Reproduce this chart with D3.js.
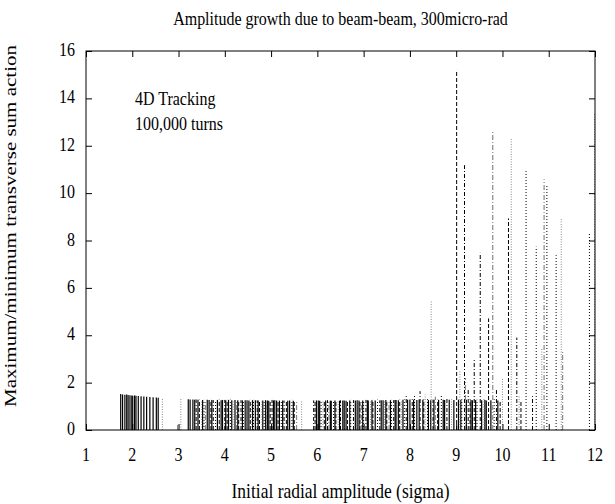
<!doctype html>
<html lang="en">
<head>
    <title></title>
    <script src="https://d3js.org/d3.v7.min.js"></script>
    <style type="text/css">
    body { margin:0; background:white; }
    text { font-family:"Liberation Serif", "DejaVu Serif", serif; fill:black; }
    .tick line { stroke:black; }
    </style>
</head>

<body>
</body>

<script type="text/javascript">

  // tick labels
  var xTicks = [1,2,3,4,5,6,7,8,9,10,11,12]
  var yTicks = [0,2,4,6,8,10,12,14,16]

  // impulses: [initial amplitude, max/min action], one array per line style
  var solidPts = [
    [1.75,1.52],[1.79,1.50],[1.84,1.49],[1.88,1.50],[1.91,1.48],
    [1.95,1.47],[1.99,1.46],[2.01,1.45],[2.05,1.46],[2.08,1.45],
    [2.13,1.44],[2.19,1.42],[2.25,1.41],[2.31,1.40],
    [2.38,1.39],[2.45,1.38],[2.52,1.37],[2.56,1.36],
    [3.21,1.30],[3.25,1.29],[3.31,1.29],[3.35,1.28],[3.42,1.28],[3.52,1.27],[3.62,1.28],[3.66,1.27],
    [3.72,1.27],[3.84,1.27],[3.92,1.26],[3.95,1.27],[4.02,1.26],[4.08,1.27],[4.15,1.26],[4.22,1.27],
    [4.28,1.26],[4.38,1.25],[4.44,1.26],[4.48,1.26],[4.52,1.25],[4.60,1.26],[4.66,1.26],[4.72,1.25],
    [4.82,1.25],[4.88,1.26],[4.92,1.25],[4.95,1.24],[5.05,1.25],[5.08,1.26],[5.12,1.25],[5.18,1.24],
    [5.25,1.25],[5.36,1.24],[5.40,1.25],[5.48,1.24],[5.98,1.25],[6.02,1.25],[6.05,1.24],[6.18,1.25],
    [6.28,1.24],[6.30,1.24],[6.38,1.25],[6.48,1.24],[6.55,1.25],[6.58,1.25],[6.62,1.24],[6.70,1.25],
    [6.82,1.25],[6.86,1.26],[6.90,1.25],[6.98,1.25],[7.08,1.26],[7.10,1.25],[7.18,1.26],[7.25,1.25],
    [7.38,1.26],[7.42,1.26],[7.48,1.27],[7.58,1.26],[7.68,1.27],[7.70,1.27],[7.75,1.26],[7.85,1.28],
    [7.95,1.28],[8.00,1.29],[8.08,1.28],[8.15,1.27],[8.20,1.29],[8.28,1.28],[8.40,1.27],[8.45,1.26],
    [8.52,1.28],[8.62,1.27],[8.72,1.28],[8.75,1.27],[8.85,1.28],[8.95,1.27],[9.05,1.28],[9.10,1.27],
    [9.22,1.28],[9.32,1.27],[9.35,1.26],[9.42,1.27],[9.55,1.26],[9.62,1.27],[9.65,1.25],[9.75,1.26],
    [9.90,1.25]]

  var dashedPts = [
    [3.45,1.28],[3.70,1.27],[3.88,1.28],[4.05,1.27],[4.30,1.26],[4.55,1.27],[4.75,1.25],[4.98,1.26],
    [5.15,1.25],[5.33,1.26],[5.50,1.24],[5.95,1.26],[6.15,1.25],[6.40,1.26],[6.65,1.24],[6.92,1.25],
    [7.20,1.27],[7.50,1.26],[7.78,1.28],[8.05,1.30],[8.30,1.29],[8.60,1.28],[9.01,15.2],[9.30,1.30],
    [9.70,4.71],[9.95,1.25],[10.13,8.93],[10.40,1.20]]

  var dottedPts = [
    [3.55,1.27],[3.80,1.26],[4.12,1.28],[4.40,1.25],[4.62,1.27],[4.85,1.26],[5.22,1.25],[5.45,1.27],
    [6.08,1.26],[6.35,1.25],[6.72,1.27],[7.00,1.26],[7.30,1.28],[7.60,1.27],[7.88,1.29],[8.10,1.45],
    [8.38,1.30],[8.68,1.50],[9.12,1.30],[9.45,1.28],[9.82,1.30],[10.51,10.93],[10.73,7.74],[10.96,10.38],
    [11.16,7.38],[11.88,8.30]]

  var dashDotPts = [
    [3.38,1.29],[3.75,1.26],[4.00,1.27],[4.35,1.26],[4.70,1.25],[5.02,1.27],[5.28,1.24],[5.92,1.25],
    [6.22,1.26],[6.50,1.25],[6.78,1.26],[7.05,1.27],[7.35,1.25],[7.65,1.26],[7.92,1.52],[8.22,1.64],
    [8.50,1.28],[8.80,1.35],[9.18,11.18],[9.26,1.77],[9.39,3.00],[9.52,7.48],[9.87,1.69],[10.31,3.90],
    [10.65,1.43]]

  var greyDotPts = [
    [2.65,1.35],[3.05,1.34],[3.50,1.26],[3.90,1.25],[4.18,1.26],[4.58,1.25],[4.80,1.24],[5.66,1.22],
    [6.12,1.24],[6.45,1.23],[6.85,1.24],[7.15,1.26],[7.45,1.25],[7.82,1.27],[8.33,1.50],[8.46,5.49],
    [8.90,1.30],[9.08,2.49],[9.60,1.35],[10.00,2.19],[10.19,12.28],[10.36,1.48],[10.85,3.46],[11.27,8.90],
    [11.99,13.4]]

  var greyDashDotPts = [
    [2.98,0.30],[3.58,1.25],[4.25,1.24],[4.90,1.25],[5.55,1.23],[6.25,1.24],[6.95,1.25],[7.55,1.26],
    [8.55,1.40],[9.20,2.20],[9.79,12.63],[10.90,10.59],[11.30,3.30]]

  var series = [
    {pts:solidPts,       color:"#000", dash:null,       w:1.2},
    {pts:dashedPts,      color:"#000", dash:"4,2",      w:1},
    {pts:dottedPts,      color:"#000", dash:"1,2",      w:1},
    {pts:dashDotPts,     color:"#000", dash:"4,2,1,2",  w:1},
    {pts:greyDotPts,     color:"#888", dash:"1,1.5",    w:1},
    {pts:greyDashDotPts, color:"#888", dash:"5,2,1,2",  w:1.2}]

  var margin = {top:51, bottom:74, left:86, right:20};
  var W = 615, H = 504;
  var width  = W - margin.left - margin.right;
  var height = H - margin.top  - margin.bottom;
  var stretch = 1.2;

  var xScale = d3.scaleLinear()
    .domain([1,12])
    .range([0,width])

  var yScale = d3.scaleLinear()
    .domain([0,16])
    .range([height,0])

  var root = d3.select("body")
  .append("svg")
  .attr("width", W)
  .attr("height", H)

  var svg = root.append("g")
  .attr("transform", "translate("+margin.left+","+margin.top+")");

  // impulses
  series.forEach(s=>{
    svg.append("g")
    .selectAll("line")
    .data(s.pts)
    .enter()
    .append("line")
    .attr("x1", d=>xScale(d[0]))
    .attr("x2", d=>xScale(d[0]))
    .attr("y1", yScale(0))
    .attr("y2", d=>yScale(d[1]))
    .style("stroke", s.color)
    .style("stroke-width", s.w)
    .style("stroke-dasharray", s.dash)
  })

  // inward ticks on all four sides
  var tk = 6;
  svg.append("g")
  .attr("transform", "translate(0,"+height+")")
  .call(d3.axisBottom(xScale).tickValues(xTicks).tickSizeInner(-tk).tickSizeOuter(0).tickFormat(""))
  svg.append("g")
  .call(d3.axisTop(xScale).tickValues(xTicks).tickSizeInner(-tk).tickSizeOuter(0).tickFormat(""))
  svg.append("g")
  .call(d3.axisLeft(yScale).tickValues(yTicks).tickSizeInner(-tk).tickSizeOuter(0).tickFormat(""))
  svg.append("g")
  .attr("transform", "translate("+width+",0)")
  .call(d3.axisRight(yScale).tickValues(yTicks).tickSizeInner(-tk).tickSizeOuter(0).tickFormat(""))
  svg.selectAll(".domain").remove()

  svg.append("rect")
  .attr("width", width)
  .attr("height", height)
  .style("fill", "none")
  .style("stroke", "black")
  .style("stroke-width", 1)

  // text, condensed like the original
  function label(x, y, str, size, anchor, rot){
    root.append("text")
    .attr("transform", "translate("+x+","+y+") scale(1,"+stretch+")" + (rot ? " rotate(-90)" : ""))
    .attr("text-anchor", anchor)
    .style("font-size", size+"px")
    .text(str)
  }

  xTicks.forEach(v=>label(margin.left+xScale(v), 461, v, 16, "middle"))
  yTicks.forEach(v=>label(75, margin.top+yScale(v)+5, v, 16, "end"))

  label(margin.left+width/2, 25, "Amplitude growth due to beam-beam, 300micro-rad", 16, "middle")
  label(margin.left+width/2, 498, "Initial radial amplitude (sigma)", 17.5, "middle")
  label(16, 226, "Maximum/minimum transverse sum action", 17.5, "middle", true)
  label(135, 105, "4D Tracking", 16, "start")
  label(135, 130, "100,000 turns", 16, "start")

</script>
</html>
